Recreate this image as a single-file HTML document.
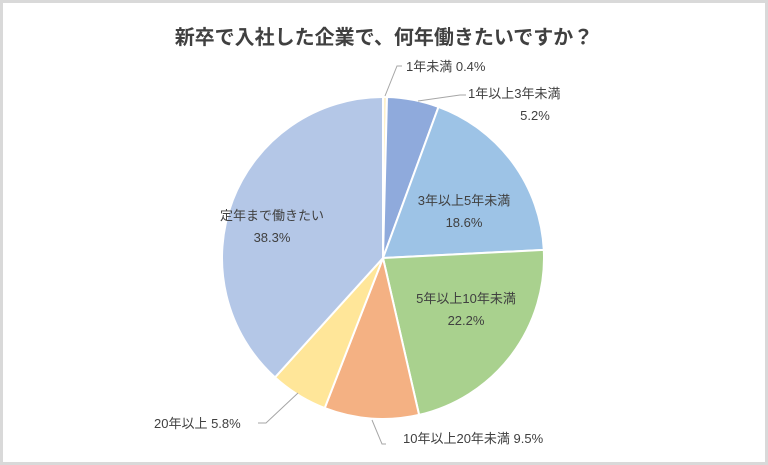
<!DOCTYPE html>
<html><head><meta charset="utf-8"><style>
html,body{margin:0;padding:0;background:#fff}
svg{display:block}
text{font-family:"Liberation Sans","Noto Sans CJK JP",sans-serif;fill:#404040}
</style></head><body>
<svg width="768" height="465" viewBox="0 0 768 465">
<rect x="1.5" y="1.5" width="765" height="462" fill="#fff" stroke="#d9d9d9" stroke-width="3"/>
<text x="384" y="44" font-size="20" font-weight="bold" text-anchor="middle" fill="#404040">新卒で入社した企業で、何年働きたいですか？</text>
<g stroke="#fff" stroke-width="2">
<path d="M383,258 L383,97 A161,161 0 0 1 387,97 Z" fill="#fff2cc"/>
<path d="M383,258 L387,97 A161,161 0 0 1 438.5,106.9 Z" fill="#8faadc"/>
<path d="M383,258 L438.5,106.9 A161,161 0 0 1 543.8,249.9 Z" fill="#9dc3e6"/>
<path d="M383,258 L543.8,249.9 A161,161 0 0 1 419.1,414.9 Z" fill="#a9d18e"/>
<path d="M383,258 L419.1,414.9 A161,161 0 0 1 324.7,408.1 Z" fill="#f4b183"/>
<path d="M383,258 L324.7,408.1 A161,161 0 0 1 275,377.4 Z" fill="#ffe699"/>
<path d="M383,258 L275,377.4 A161,161 0 0 1 383,97 Z" fill="#b4c7e7"/>
</g>
<g stroke="#a6a6a6" stroke-width="1" fill="none">
<polyline points="385,96 397,66 402,66"/>
<polyline points="418,101 460,95 466,95"/>
<polyline points="298,393 266,423 258,423"/>
<polyline points="372,420 382,444 386,444"/>
</g>
<g font-size="13">
<text x="406" y="71">1年未満  0.4%</text>
<text x="468" y="98">1年以上3年未満</text>
<text x="535" y="120" text-anchor="middle">5.2%</text>
<text x="464" y="205" text-anchor="middle">3年以上5年未満</text>
<text x="464" y="227" text-anchor="middle">18.6%</text>
<text x="466" y="303" text-anchor="middle">5年以上10年未満</text>
<text x="466" y="325" text-anchor="middle">22.2%</text>
<text x="272" y="220" text-anchor="middle">定年まで働きたい</text>
<text x="272" y="242" text-anchor="middle">38.3%</text>
<text x="154" y="428">20年以上  5.8%</text>
<text x="403" y="443">10年以上20年未満  9.5%</text>
</g>
</svg>
</body></html>
